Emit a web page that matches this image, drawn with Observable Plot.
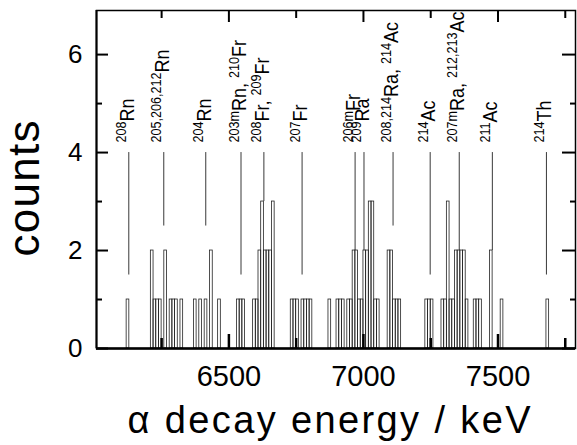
<!DOCTYPE html>
<html>
<head>
<meta charset="utf-8">
<script src="https://cdn.jsdelivr.net/npm/d3@7"></script>
<script src="https://cdn.jsdelivr.net/npm/@observablehq/plot@0.6"></script>
<style>
  html, body { margin: 0; padding: 0; background: white; }
</style>
</head>
<body>
<div id="chart"></div>
<script>
// ---- data ----
const binWidth = 10; // keV
const binStart = [6120, 6210, 6220, 6230, 6240, 6260, 6280, 6290, 6300, 6320,
  6370, 6390, 6410, 6430, 6460, 6530, 6540, 6550, 6590, 6600,
  6610, 6620, 6630, 6640, 6650, 6660, 6730, 6740, 6750, 6770,
  6780, 6790, 6800, 6870, 6900, 6910, 6920, 6940, 6950, 6960,
  6970, 6980, 6990, 7000, 7010, 7020, 7030, 7040, 7050, 7090,
  7100, 7110, 7120, 7130, 7230, 7240, 7250, 7290, 7300, 7310,
  7320, 7330, 7340, 7350, 7360, 7370, 7380, 7410, 7420, 7430,
  7470, 7510, 7680];
const binCount = [1, 2, 1, 1, 1, 2, 1, 1, 1, 1,
  1, 1, 1, 2, 1, 1, 1, 1, 1, 1,
  2, 3, 2, 2, 2, 3, 1, 1, 1, 1,
  1, 1, 1, 1, 1, 1, 1, 1, 1, 2,
  2, 1, 1, 2, 2, 3, 3, 1, 1, 2,
  2, 1, 1, 1, 1, 1, 1, 1, 1, 3,
  1, 1, 2, 2, 2, 2, 1, 1, 1, 1,
  2, 1, 1];

const isoEnergy = [6128, 6258, 6414, 6545, 6630, 6772, 6969, 7002, 7110, 7248, 7356, 7479, 7680];
const isoLabel = ["{208}Rn", "{205,206,212}Rn", "{204}Rn", "{203m}Rn, {210}Fr", "{208}Fr, {209}Fr",
  "{207}Fr", "{206m}Fr", "{209}Ra", "{208,214}Ra, {214}Ac", "{214}Ac",
  "{207m}Ra, {212,213}Ac", "{211}Ac", "{214}Th"];
const isoLineBottom = [1.5, 2.5, 2.5, 1.5, 3, 1.5, 2, 2, 2.5, 1.5, 2, 2, 1.5];
const isoLineTop = 4;

const xDomain = [6008, 7788];
const yDomain = [0, 6.9];
const xTickLabels = [6500, 7000, 7500];
const xMajorTicks = [6500, 7000, 7500];
const xMinorTicks = [6250, 6750, 7250, 7750];
const yTickLabels = [0, 2, 4, 6];
const yMajorTicks = [0, 2, 4, 6];
const yMinorTicks = [1, 3, 5];
const xTitle = "α decay energy / keV";
const yTitle = "counts";

// ---- layout ----
const W = 577, Hh = 445;
const mL = 96, mR = 2, mT = 10, mB = 97;
const fw = W - mL - mR, fh = Hh - mT - mB;

const bins = binStart.map((s, i) => ({lo: s, hi: s + binWidth, n: binCount[i]}));
const isos = isoEnergy.map((e, i) => ({e, label: isoLabel[i], bottom: isoLineBottom[i]}));

const chart = Plot.plot({
  width: W, height: Hh,
  marginLeft: mL, marginRight: mR, marginTop: mT, marginBottom: mB,
  style: {fontFamily: "Liberation Sans, Arial, sans-serif", background: "white", color: "black", overflow: "visible"},
  x: {domain: xDomain},
  y: {domain: yDomain},
  marks: [
    Plot.rectY(bins, {x1: "lo", x2: "hi", y1: 0, y2: "n", fill: "none", stroke: "#222", strokeWidth: 0.8}),
    Plot.ruleX(isos, {x: "e", y1: "bottom", y2: isoLineTop, stroke: "#222", strokeWidth: 0.9}),
    Plot.text(isos, {x: "e", y: isoLineTop, text: "label", rotate: -90, textAnchor: "start", lineAnchor: "bottom",
      dx: 5, dy: -10, fontSize: 20, fill: "black"}),
    Plot.frame({stroke: "black", strokeWidth: 1.5}),
    Plot.ruleY([yDomain[0]], {stroke: "black", strokeWidth: 2.5}),
    Plot.ruleX([xDomain[0]], {stroke: "black", strokeWidth: 2}),
    // inward ticks
    Plot.tickX(xMajorTicks, {x: d => d, insetTop: fh - 14, stroke: "black", strokeWidth: 2.5}),
    Plot.tickX(xMinorTicks, {x: d => d, insetTop: fh - 10, stroke: "black", strokeWidth: 2.5}),
    Plot.tickX(xMajorTicks, {x: d => d, insetBottom: fh - 12, stroke: "black", strokeWidth: 2}),
    Plot.tickX(xMinorTicks, {x: d => d, insetBottom: fh - 8, stroke: "black", strokeWidth: 2}),
    Plot.tickY(yMajorTicks, {y: d => d, insetRight: fw - 12, stroke: "black", strokeWidth: 2}),
    Plot.tickY(yMinorTicks, {y: d => d, insetRight: fw - 6, stroke: "black", strokeWidth: 2}),
    Plot.tickY(yMajorTicks, {y: d => d, insetLeft: fw - 13, stroke: "black", strokeWidth: 2}),
    Plot.tickY(yMinorTicks, {y: d => d, insetLeft: fw - 5, stroke: "black", strokeWidth: 2}),
    Plot.axisX({ticks: xTickLabels, tickSize: 0, tickPadding: 17, fontSize: 29, label: null, tickFormat: "d"}),
    Plot.axisY({ticks: yTickLabels, tickSize: 0, tickPadding: 14, fontSize: 26, label: null, tickFormat: "d"}),
    Plot.text([xTitle], {frameAnchor: "bottom", text: d => d, textAnchor: "middle", lineAnchor: "bottom",
      dx: -7, dy: 84, fontSize: 38, fill: "black"}),
    Plot.text([yTitle], {frameAnchor: "left", text: d => d, rotate: -90, textAnchor: "middle", lineAnchor: "bottom",
      dx: -58, dy: 9, fontSize: 44, fill: "black"})
  ]
});

document.getElementById("chart").append(chart);

const NS = "http://www.w3.org/2000/svg";
const labelSet = new Set(isoLabel);
chart.querySelectorAll("text").forEach(t => {
  const s = t.textContent;
  if (labelSet.has(s)) {
    // superscript mass numbers
    t.textContent = "";
    const parts = s.split(/(\{[^}]*\})/).filter(p => p.length);
    let inSup = false;
    for (const p of parts) {
      const ts = document.createElementNS(NS, "tspan");
      if (p.startsWith("{")) {
        ts.textContent = p.slice(1, -1);
        ts.setAttribute("font-size", 14);
        ts.setAttribute("dy", inSup ? 0 : -7.5);
        inSup = true;
      } else {
        ts.textContent = p;
        ts.setAttribute("font-size", 20);
        ts.setAttribute("dy", inSup ? 7.5 : 0);
        inSup = false;
      }
      t.append(ts);
    }
    // the reference lettering is slightly condensed
    const len = t.getComputedTextLength();
    t.setAttribute("textLength", (len * 0.9).toFixed(1));
    t.setAttribute("lengthAdjust", "spacingAndGlyphs");
  } else if (s === xTitle) {
    t.setAttribute("textLength", 403);
    t.setAttribute("lengthAdjust", "spacing");
  } else if (s === yTitle) {
    t.setAttribute("textLength", 136);
    t.setAttribute("lengthAdjust", "spacing");
  }
});
</script>
</body>
</html>
